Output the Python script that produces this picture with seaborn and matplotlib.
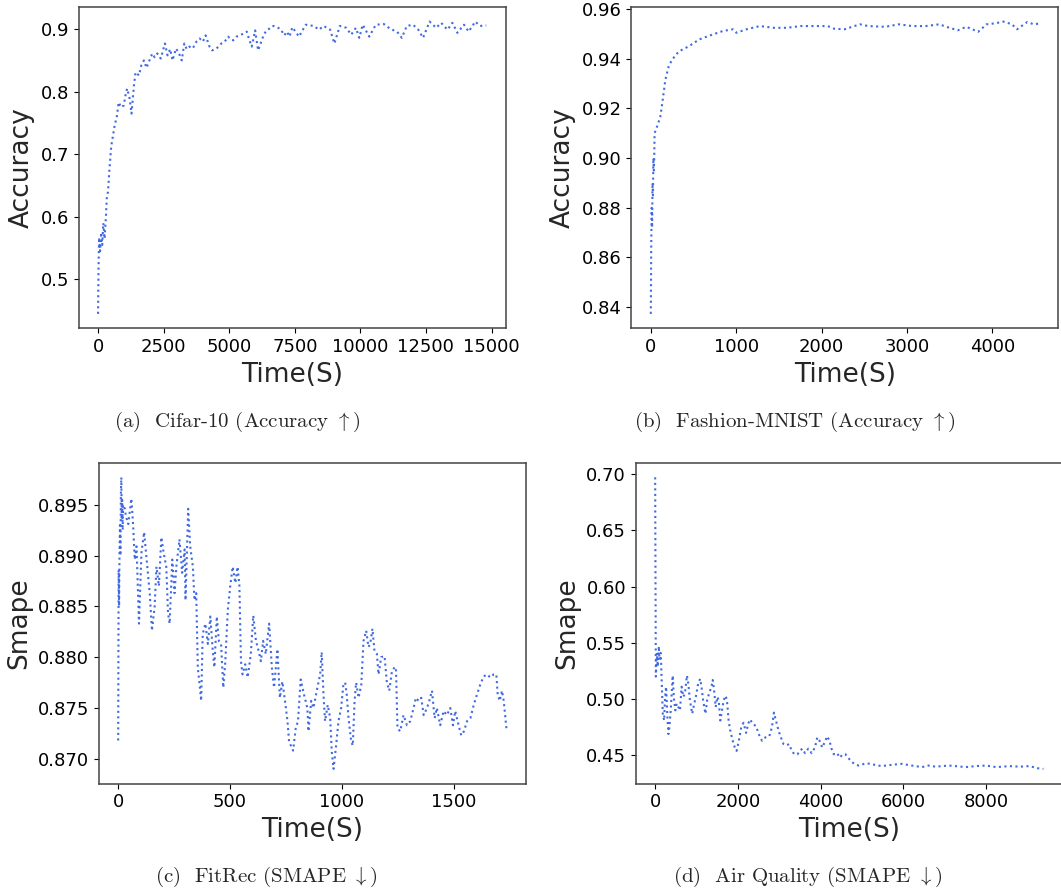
import matplotlib
matplotlib.use("Agg")
import matplotlib.pyplot as plt
import seaborn as sns
import pandas as pd

# ---------------- data ----------------
cifar_time = [0, 20, 40, 80, 120, 160, 200, 250, 300, 336, 380, 425, 503, 540, 630, 720, 786, 880,
              980, 1050, 1110, 1200, 1276, 1370, 1430, 1560, 1650, 1750, 1850, 1940, 2070, 2160,
              2260, 2390, 2550, 2650, 2750, 2840, 2970, 3080, 3190, 3290, 3380, 3480, 3610, 3750,
              3870, 4000, 4100, 4250, 4350, 4480, 4600, 4700, 4830, 4960, 5050, 5150, 5280, 5410,
              5550, 5670, 5750, 5860, 5990, 6100, 6180, 6310, 6420, 6510, 6600, 6700, 6820, 6960,
              7100, 7200, 7300, 7410, 7660, 7920, 8230, 8420, 8600, 8850, 9010, 9220, 9470, 9650,
              9830, 9960, 10090, 10340, 10590, 10900, 11150, 11400, 11580, 11770, 12010, 12210,
              12390, 12640, 12890, 13080, 13320, 13510, 13700, 13950, 14130, 14380, 14560, 14800]
cifar_acc = [0.445, 0.520, 0.567, 0.545, 0.575, 0.555, 0.590, 0.565, 0.600, 0.632, 0.640, 0.670,
             0.713, 0.722, 0.745, 0.761, 0.783, 0.775, 0.778, 0.795, 0.805, 0.790, 0.765, 0.810,
             0.831, 0.826, 0.842, 0.850, 0.838, 0.848, 0.861, 0.855, 0.861, 0.853, 0.877, 0.858,
             0.868, 0.850, 0.869, 0.862, 0.850, 0.877, 0.868, 0.872, 0.869, 0.880, 0.885, 0.880,
             0.890, 0.872, 0.866, 0.868, 0.872, 0.877, 0.880, 0.888, 0.884, 0.882, 0.888, 0.890,
             0.893, 0.896, 0.885, 0.872, 0.898, 0.866, 0.875, 0.890, 0.898, 0.900, 0.904, 0.905,
             0.903, 0.900, 0.890, 0.896, 0.888, 0.903, 0.888, 0.907, 0.905, 0.899, 0.905, 0.899,
             0.877, 0.905, 0.902, 0.891, 0.902, 0.886, 0.907, 0.888, 0.907, 0.908, 0.900, 0.896,
             0.886, 0.905, 0.907, 0.899, 0.886, 0.912, 0.902, 0.910, 0.899, 0.910, 0.894, 0.907,
             0.896, 0.912, 0.905, 0.906]

fmnist_time = [0, 5, 10, 15, 20, 25, 30, 35, 40, 44, 71, 111, 139, 170, 210, 250, 329, 448, 566,
               725, 844, 962, 1002, 1121, 1279, 1438, 1596, 1754, 1952, 2071, 2150, 2269, 2448,
               2547, 2745, 2903, 3061, 3220, 3378, 3497, 3596, 3695, 3834, 3933, 4032, 4131,
               4230, 4289, 4408, 4487, 4547]
fmnist_acc = [0.8373, 0.865, 0.880, 0.872, 0.890, 0.885, 0.900, 0.895, 0.900, 0.9100, 0.9125,
              0.9166, 0.9234, 0.9315, 0.9370, 0.9397, 0.9430, 0.9451, 0.9478, 0.9498, 0.9512,
              0.9519, 0.9505, 0.9519, 0.9532, 0.9525, 0.9525, 0.9532, 0.9532, 0.9532, 0.9521,
              0.9519, 0.9539, 0.9532, 0.9529, 0.9539, 0.9532, 0.9532, 0.9539, 0.9525, 0.9515,
              0.9529, 0.9509, 0.9539, 0.9543, 0.9550, 0.9539, 0.9519, 0.9548, 0.9539, 0.9542]

fitrec_time = [0, 2, 4, 6, 8, 10, 12, 14, 16, 18, 20, 22, 30, 34, 45, 59, 67, 74, 82, 93, 104,
               116, 126, 141, 151, 163, 171, 182, 193, 203, 215, 223, 230, 242, 252, 260, 274,
               286, 297, 301, 313, 322, 334, 341, 349, 356, 364, 371, 378, 390, 401, 412, 423,
               430, 441, 450, 460, 470, 479, 490, 501, 512, 524, 534, 542, 549, 556, 568, 579,
               593, 604, 616, 628, 638, 648, 660, 675, 687, 697, 712, 723, 734, 746, 757, 764,
               782, 794, 804, 816, 831, 846, 851, 863, 873, 888, 903, 910, 918, 925, 937, 948,
               955, 963, 973, 985, 997, 1007, 1015, 1022, 1030, 1042, 1049, 1057, 1064, 1075,
               1087, 1097, 1109, 1119, 1127, 1137, 1146, 1157, 1164, 1176, 1191, 1201, 1212,
               1224, 1236, 1242, 1249, 1261, 1276, 1291, 1306, 1321, 1331, 1343, 1355, 1366,
               1381, 1391, 1403, 1415, 1425, 1440, 1455, 1470, 1485, 1497, 1507, 1522, 1534,
               1546, 1560, 1575, 1590, 1604, 1619, 1634, 1649, 1664, 1679, 1691, 1697, 1706,
               1716, 1724, 1736]
fitrec_smape = [0.8718, 0.8886, 0.8850, 0.8905, 0.8930, 0.8900, 0.8960, 0.8977, 0.8935, 0.8955,
                0.8925, 0.8950, 0.8946, 0.8939, 0.8931, 0.8956, 0.8929, 0.8896, 0.8909, 0.8833,
                0.8903, 0.8923, 0.8899, 0.8863, 0.8826, 0.8850, 0.8889, 0.8870, 0.8918, 0.8903,
                0.8889, 0.8843, 0.8833, 0.8896, 0.8863, 0.8889, 0.8916, 0.8883, 0.8906, 0.8856,
                0.8946, 0.8909, 0.8889, 0.8856, 0.8863, 0.8790, 0.8773, 0.8757, 0.8823, 0.8833,
                0.8813, 0.8840, 0.8806, 0.8790, 0.8840, 0.8816, 0.8813, 0.8770, 0.8796, 0.8846,
                0.8870, 0.8889, 0.8873, 0.8889, 0.8870, 0.8796, 0.8783, 0.8793, 0.8780, 0.8803,
                0.8841, 0.8816, 0.8806, 0.8796, 0.8816, 0.8803, 0.8833, 0.8790, 0.8770, 0.8808,
                0.8760, 0.8776, 0.8757, 0.8737, 0.8717, 0.8708, 0.8730, 0.8737, 0.8778, 0.8763,
                0.8750, 0.8727, 0.8757, 0.8750, 0.8767, 0.8783, 0.8805, 0.8763, 0.8737, 0.8753,
                0.8740, 0.8707, 0.8690, 0.8710, 0.8737, 0.8750, 0.8773, 0.8775, 0.8763, 0.8740,
                0.8717, 0.8713, 0.8757, 0.8775, 0.8760, 0.8773, 0.8816, 0.8826, 0.8810, 0.8813,
                0.8828, 0.8806, 0.8803, 0.8783, 0.8800, 0.8801, 0.8776, 0.8767, 0.8786, 0.8790,
                0.8790, 0.8730, 0.8727, 0.8743, 0.8733, 0.8737, 0.8750, 0.8760, 0.8757, 0.8760,
                0.8743, 0.8750, 0.8757, 0.8767, 0.8740, 0.8750, 0.8733, 0.8747, 0.8743, 0.8750,
                0.8733, 0.8747, 0.8733, 0.8723, 0.8727, 0.8737, 0.8740, 0.8753, 0.8763, 0.8773,
                0.8781, 0.8783, 0.8780, 0.8783, 0.8783, 0.8763, 0.8757, 0.8767, 0.8757, 0.8730]

air_time = [0, 16, 40, 64, 88, 104, 136, 152, 168, 184, 216, 240, 264, 296, 320, 344, 376, 400,
            424, 456, 488, 520, 560, 600, 640, 680, 720, 768, 800, 840, 896, 944, 984, 1040,
            1088, 1120, 1160, 1216, 1256, 1304, 1360, 1392, 1424, 1464, 1504, 1536, 1576, 1616,
            1656, 1704, 1736, 1776, 1816, 1856, 1904, 1968, 2024, 2080, 2136, 2200, 2248, 2296,
            2360, 2440, 2504, 2584, 2664, 2760, 2824, 2872, 2920, 2984, 3040, 3104, 3176, 3240,
            3304, 3368, 3440, 3496, 3560, 3624, 3704, 3784, 3864, 3920, 3976, 4040, 4104, 4160,
            4216, 4264, 4320, 4400, 4464, 4536, 4600, 4664, 4760, 4840, 4920, 5000, 5120, 5469,
            5714, 5959, 6204, 6449, 6612, 6776, 7102, 7265, 7510, 7755, 8000, 8245, 8571, 8816,
            9061, 9224, 9388]
air_smape = [0.697, 0.520, 0.541, 0.529, 0.547, 0.535, 0.541, 0.523, 0.505, 0.487, 0.481, 0.502,
             0.511, 0.484, 0.469, 0.475, 0.490, 0.505, 0.521, 0.499, 0.490, 0.496, 0.493, 0.490,
             0.511, 0.502, 0.505, 0.521, 0.514, 0.499, 0.487, 0.496, 0.502, 0.514, 0.518, 0.511,
             0.499, 0.487, 0.499, 0.505, 0.511, 0.517, 0.508, 0.493, 0.502, 0.499, 0.481, 0.490,
             0.499, 0.503, 0.499, 0.481, 0.472, 0.466, 0.459, 0.454, 0.463, 0.475, 0.479, 0.470,
             0.478, 0.482, 0.478, 0.476, 0.469, 0.463, 0.466, 0.467, 0.475, 0.488, 0.481, 0.472,
             0.466, 0.460, 0.459, 0.460, 0.454, 0.451, 0.451, 0.454, 0.456, 0.452, 0.456, 0.452,
             0.457, 0.466, 0.463, 0.457, 0.462, 0.467, 0.463, 0.456, 0.451, 0.452, 0.448, 0.451,
             0.451, 0.448, 0.444, 0.442, 0.441, 0.442, 0.443, 0.4405, 0.4416, 0.4425, 0.441,
             0.4396, 0.441, 0.440, 0.441, 0.4405, 0.4396, 0.4405, 0.441, 0.4396, 0.4405, 0.440,
             0.4405, 0.4387, 0.438]

cifar_xticks = [0, 2500, 5000, 7500, 10000, 12500, 15000]
fmnist_xticks = [0, 1000, 2000, 3000, 4000]
fitrec_xticks = [0, 500, 1000, 1500]
air_xticks = [0, 2000, 4000, 6000, 8000]

captions = [r"(a)  Cifar-10 (Accuracy $\uparrow$)",
            r"(b)  Fashion-MNIST (Accuracy $\uparrow$)",
            r"(c)  FitRec (SMAPE $\downarrow$)",
            r"(d)  Air Quality (SMAPE $\downarrow$)"]
ylabels = ["Accuracy", "Accuracy", "Smape", "Smape"]

# ---------------- style ----------------
sns.set_style("ticks")
plt.rcParams["font.family"] = ["DejaVu Sans"]
plt.rcParams["mathtext.fontset"] = "cm"
plt.rcParams["axes.edgecolor"] = "#444444"
plt.rcParams["axes.linewidth"] = 1.1
plt.rcParams["xtick.color"] = "black"
plt.rcParams["ytick.color"] = "black"
plt.rcParams["xtick.major.size"] = 3.5
plt.rcParams["ytick.major.size"] = 3.5

LINE_COLOR = "#4169E1"

fig = plt.figure(figsize=(10.61, 8.94), dpi=100)
rects = [[0.0741, 0.6326, 0.4025, 0.3596],
         [0.5951, 0.6326, 0.4025, 0.3596],
         [0.0931, 0.1236, 0.4025, 0.3588],
         [0.5992, 0.1236, 0.4025, 0.3588]]
series = [(cifar_time, cifar_acc, cifar_xticks),
          (fmnist_time, fmnist_acc, fmnist_xticks),
          (fitrec_time, fitrec_smape, fitrec_xticks),
          (air_time, air_smape, air_xticks)]

for rect, (xs, ys, xt), ylab in zip(rects, series, ylabels):
    ax = fig.add_axes(rect)
    df = pd.DataFrame({"t": xs, "v": ys})
    sns.lineplot(data=df, x="t", y="v", ax=ax, color=LINE_COLOR, linestyle=":",
                 linewidth=1.5, estimator=None, sort=False)
    ax.set_xticks(xt)
    ax.set_xlabel("Time(S)", fontsize=19)
    ax.set_ylabel(ylab, fontsize=19)
    ax.tick_params(labelsize=13)
    ax.margins(x=0.05, y=0.05)

cap_pos = [(0.2234, 0.528), (0.749, 0.528), (0.251, 0.019), (0.7615, 0.019)]
for (cx, cy), txt in zip(cap_pos, captions):
    fig.text(cx, cy, txt, ha="center", va="center", fontsize=15, family="cmr10")

fig.savefig("out.png", dpi=100)
